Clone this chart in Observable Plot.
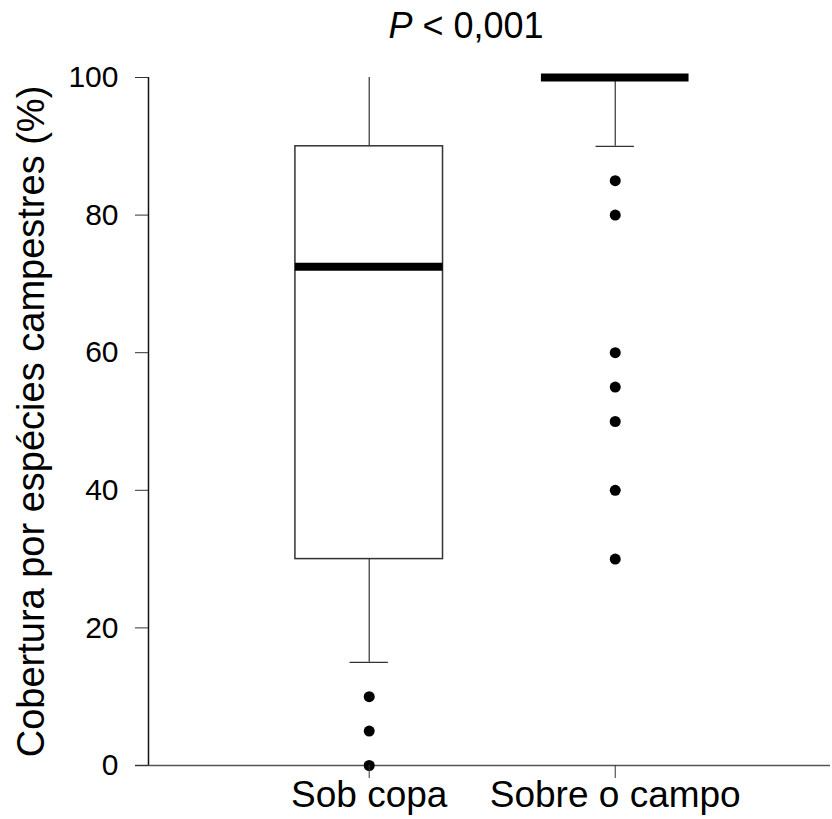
<!DOCTYPE html>
<html>
<head>
<meta charset="utf-8">
<script src="https://cdn.jsdelivr.net/npm/d3@7"></script>
<script src="https://cdn.jsdelivr.net/npm/@observablehq/plot@0.6"></script>
<style>
  html, body { margin: 0; padding: 0; background: #fff; }
  body { width: 832px; height: 819px; overflow: hidden; font-family: "Liberation Sans", Arial, sans-serif; }
  #title { height: 50px; box-sizing: border-box; padding-top: 8px; padding-left: 100px; text-align: center;
           font-size: 36px; line-height: 36px; color: #000; font-family: "Liberation Sans", Arial, sans-serif; }
  #chart svg { display: block; }
</style>
</head>
<body>
<div id="title"><i>P</i> &lt; 0,001</div>
<div id="chart"></div>
<script>
// ---- data ----
const categories = ["Sob copa", "Sobre o campo"];
const q1 = [30, 100];
const median = [72.5, 100];
const q3 = [90, 100];
const whiskerLow = [15, 90];
const whiskerHigh = [100, 100];
const outliersSobCopa = [10, 5, 0];
const outliersSobreCampo = [85, 80, 60, 55, 50, 40, 30];
const yTicks = [0, 20, 40, 60, 80, 100];
const yLabel = "Cobertura por espécies campestres (%)";

// ---- tables built from the arrays ----
const boxes = categories.map((c, k) => ({
  i: k + 1, cat: c, q1: q1[k], median: median[k], q3: q3[k],
  lo: whiskerLow[k], hi: whiskerHigh[k]
}));
const outliers = [
  ...outliersSobCopa.map(v => ({i: 1, value: v})),
  ...outliersSobreCampo.map(v => ({i: 2, value: v}))
];

const half = 0.3;   // half box width (x units)
const cap = 0.078;  // half cap width

const chart = Plot.plot({
  width: 832,
  height: 769,
  marginLeft: 135,
  marginRight: 2,
  marginTop: 27,
  marginBottom: 54,
  style: {fontFamily: "'Liberation Sans', Arial, sans-serif", color: "#000", background: "#fff"},
  x: {type: "linear", domain: [0.05, 2.875], axis: null},
  y: {domain: [0, 100], axis: null},
  marks: [
    // axis lines
    Plot.ruleY([0], {stroke: "#555", strokeWidth: 1.5}),
    Plot.ruleX([0.1028], {y1: 0, y2: 100, stroke: "#111", strokeWidth: 1.5}),
    // whiskers
    Plot.ruleX(boxes.filter(d => d.hi > d.q3), {x: "i", y1: "q3", y2: "hi", stroke: "#333", strokeWidth: 1.2}),
    Plot.ruleX(boxes.filter(d => d.lo < d.q1), {x: "i", y1: "lo", y2: "q1", stroke: "#333", strokeWidth: 1.2}),
    Plot.ruleY(boxes.filter(d => d.lo < d.q1), {y: "lo", x1: d => d.i - cap, x2: d => d.i + cap, stroke: "#333", strokeWidth: 1.2}),
    // boxes
    Plot.rect(boxes.filter(d => d.q3 > d.q1), {x1: d => d.i - half, x2: d => d.i + half, y1: "q1", y2: "q3",
      fill: "white", stroke: "#333", strokeWidth: 1.5}),
    // medians
    Plot.ruleY(boxes, {y: "median", x1: d => d.i - half, x2: d => d.i + half, stroke: "#000", strokeWidth: 8}),
    // outliers
    Plot.dot(outliers, {x: "i", y: "value", r: 5.5, fill: "#000", stroke: null}),
    // axes
    Plot.axisY({ticks: yTicks, tickSize: 13, tickPadding: 17, dx: 13, fontSize: 30, label: null, stroke: "#333"}),
    Plot.axisX({ticks: [1, 2], tickFormat: i => categories[i - 1], tickSize: 13, tickPadding: 2, fontSize: 37, label: null, stroke: "#333"}),
    // y label
    Plot.text([yLabel], {frameAnchor: "left", rotate: -90, dx: -92, fontSize: 38, lineAnchor: "bottom", textAnchor: "middle", fill: "#000"})
  ]
});
document.getElementById("chart").appendChild(chart);
</script>
</body>
</html>
